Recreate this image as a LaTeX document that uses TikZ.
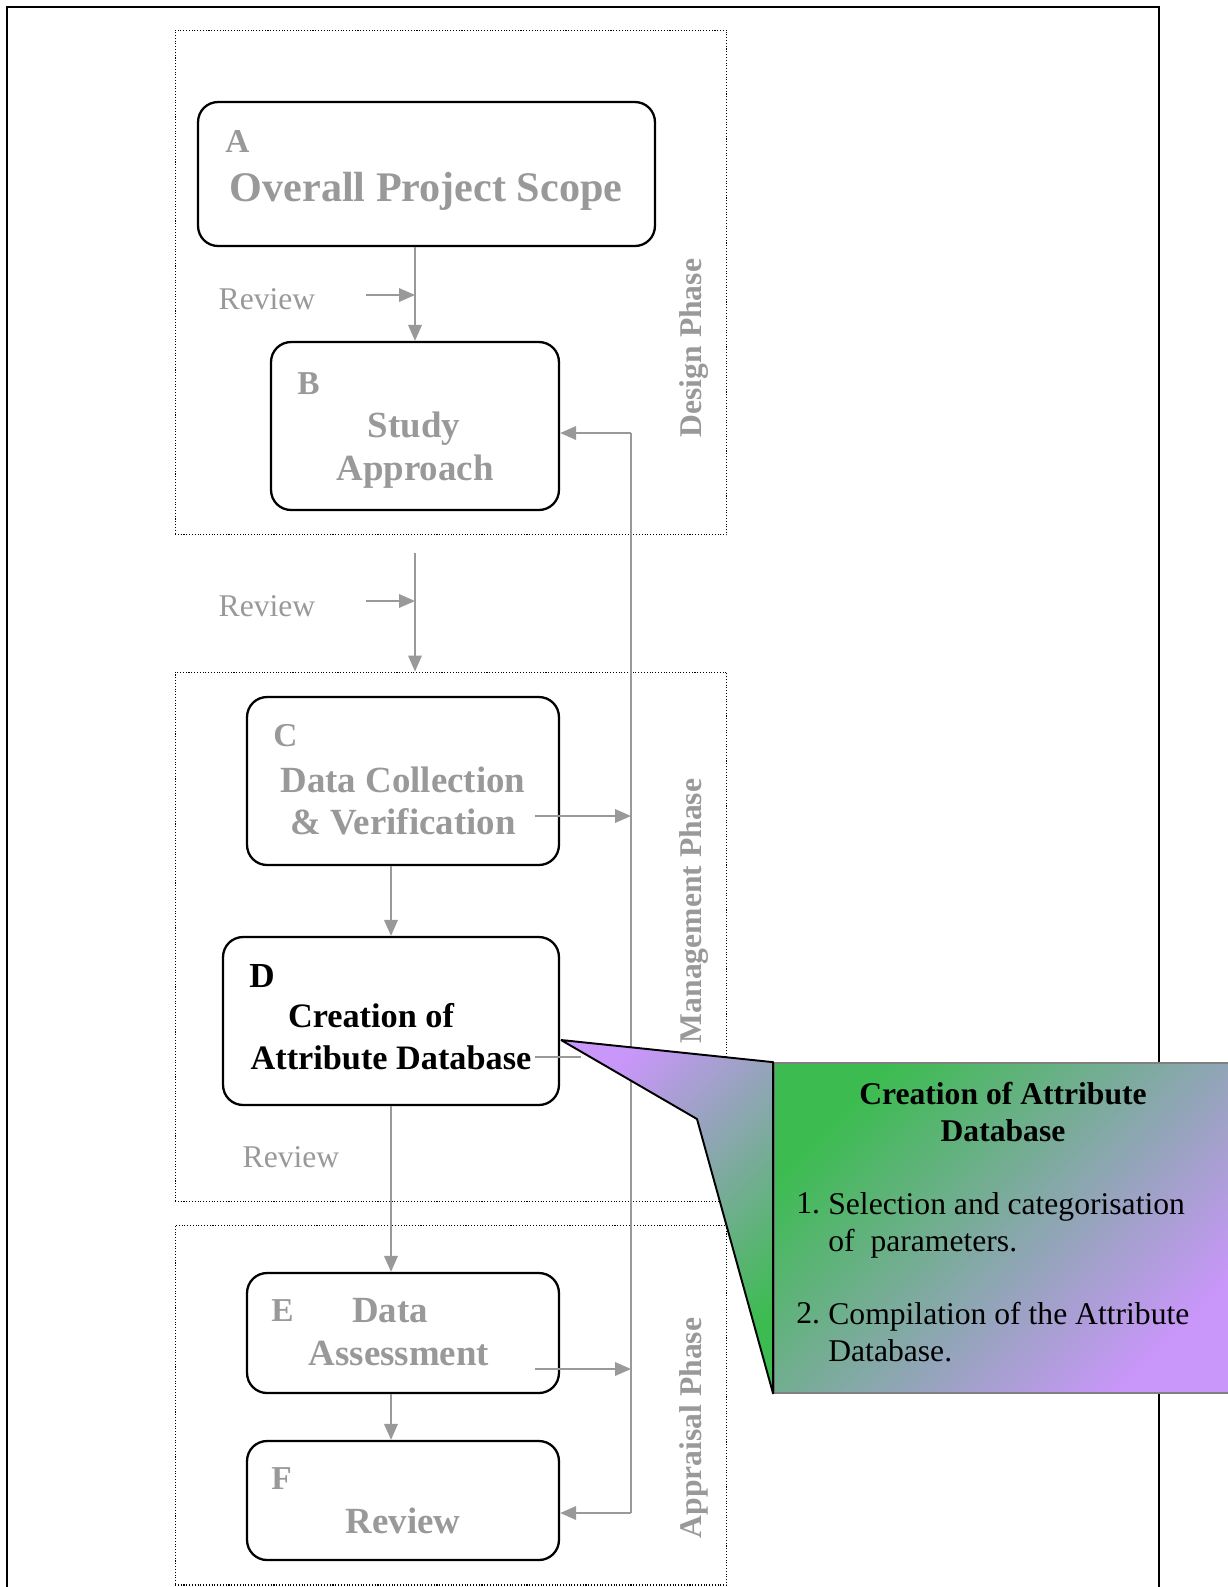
\documentclass[tikz,border=0pt]{standalone}
\usepackage{fontspec}
\setmainfont{Liberation Serif}
\usetikzlibrary{arrows.meta}

\definecolor{txtgrey}{HTML}{999999}
\definecolor{notegrey}{HTML}{808080}
\definecolor{notegreen}{HTML}{3CBC50}
\definecolor{notepurple}{HTML}{C996FA}

\begin{document}
\begin{tikzpicture}[x=0.02cm, y=-0.02cm,
    stage/.style={draw, line width=1.3pt, rounded corners=0.4cm, inner sep=0pt},
    phase/.style={draw, densely dotted, line width=0.6pt, inner sep=0pt},
    link/.style={draw=txtgrey, line width=1.1pt},
    arr/.style={link, -{Triangle[length=0.32cm,width=0.27cm]}},
    letter/.style={anchor=base west, inner sep=0pt, text=txtgrey, font=\fontsize{19}{22}\selectfont\bfseries},
    stagetext/.style={anchor=base, inner sep=0pt, text=txtgrey, font=\fontsize{21}{25}\selectfont\bfseries},
    review/.style={anchor=base, inner sep=0pt, text=txtgrey, font=\fontsize{18}{21}\selectfont},
    phasename/.style={rotate=90, inner sep=0pt, text=txtgrey, font=\fontsize{18}{21}\selectfont\bfseries},
    notetext/.style={inner sep=0pt, font=\fontsize{18}{21}\selectfont}]
    \useasboundingbox (0,0) rectangle (1228,1587);
    % Outer frame (open at the bottom)
    \draw[line width=1.1pt] (7,1600) -- (7,7) -- (1159,7) -- (1159,1600);
    % Phase boxes
    \node[phase, minimum width=11.04cm, minimum height=10.10cm] (design) at (451,282.5) {};
    \node[phase, minimum width=11.04cm, minimum height=10.60cm] (manage) at (451,937) {};
    \node[phase, minimum width=11.04cm, minimum height=7.20cm] (appraise) at (451,1405) {};
    \node[phasename] (designname) at (694,348) {Design Phase};
    \node[phasename] (managename) at (694,911) {Management Phase};
    \node[phasename] (appraisename) at (694,1428) {Appraisal Phase};
    % Stages
    \node[stage, minimum width=9.14cm, minimum height=2.88cm] (A) at (426.5,174) {};
    \node[stage, minimum width=5.76cm, minimum height=3.36cm] (B) at (415,426) {};
    \node[stage, minimum width=6.24cm, minimum height=3.36cm] (C) at (403,781) {};
    \node[stage, minimum width=6.72cm, minimum height=3.36cm] (D) at (391,1021) {};
    \node[stage, minimum width=6.24cm, minimum height=2.40cm] (E) at (403,1333) {};
    \node[stage, minimum width=6.24cm, minimum height=2.38cm] (F) at (403,1500.5) {};
    % Stage texts
    \node[letter] (Aletter) at (225,152) {A};
    \node[stagetext, font=\fontsize{24}{28}\selectfont\bfseries] (Atext) at (426,201) {Overall Project Scope};
    \node[letter] (Bletter) at (297,394) {B};
    \node[stagetext] (Btext1) at (414,437) {Study};
    \node[stagetext] (Btext2) at (415,480) {Approach};
    \node[letter] (Cletter) at (273,746) {C};
    \node[stagetext] (Ctext1) at (403,792) {Data Collection};
    \node[stagetext] (Ctext2) at (403,834) {\& Verification};
    \node[letter, text=black, font=\fontsize{20}{23}\selectfont\bfseries] (Dletter) at (249,987) {D};
    \node[stagetext, text=black, font=\fontsize{19.5}{23}\selectfont\bfseries] (Dtext1) at (371,1027) {Creation of};
    \node[stagetext, text=black, font=\fontsize{19.5}{23}\selectfont\bfseries] (Dtext2) at (391,1069) {Attribute Database};
    \node[letter] (Eletter) at (271,1321) {E};
    \node[stagetext] (Etext1) at (390,1322) {Data};
    \node[stagetext] (Etext2) at (399,1365) {Assessment};
    \node[letter] (Fletter) at (271,1489) {F};
    \node[stagetext] (Ftext) at (403,1533) {Review};
    % Reviews
    \node[review] (rv1text) at (267,309) {Review};
    \node[review] (rv2text) at (267,616) {Review};
    \node[review] (rv3text) at (291,1167) {Review};
    \coordinate (rv1) at (366,295);
    \coordinate (rv2) at (366,601);
    \coordinate (gap) at (415,553);
    % Main flow
    \draw[arr] (A.south -| B.north) -- (B.north);
    \draw[arr] (rv1) -- (rv1 -| B.north);
    \draw[arr] (gap) -- (gap |- manage.north);
    \draw[arr] (rv2) -- (rv2 -| gap);
    \draw[arr] (C.south -| D.north) -- (D.north);
    \draw[arr] (D.south) -- (D.south |- E.north);
    \draw[arr] (E.south -| D.south) -- (F.north -| D.south);
    % Feedback line
    \coordinate (busB) at (631,433);
    \coordinate (busF) at (631,1513);
    \coordinate (outC) at (535,816);
    \coordinate (outD) at (535,1057);
    \coordinate (outE) at (535,1369);
    \draw[link] (busB) -- (busF);
    \draw[arr] (busB) -- (busB -| B.east);
    \draw[arr] (busF) -- (busF -| F.east);
    \draw[arr] (outC) -- (outC -| busB);
    \draw[arr] (outE) -- (outE -| busB);
    \draw[link] (outD) -- ++(46,0);
    % Callout
    \coordinate (tip) at (561,1040);
    \coordinate (bend) at (697,1119);
    \node[draw=notegrey, line width=1pt, top color=notegreen, bottom color=notepurple, shading angle=45,
          minimum width=9.2cm, minimum height=6.6cm, inner sep=0pt] (note) at (1004,1228) {};
    \shade[top color=notepurple, bottom color=notegreen, shading angle=45]
        (tip) -- (note.north west) -- (note.south west) -- (bend) -- cycle;
    \draw[line width=1.1pt, line join=bevel] (note.north west) -- (tip) -- (bend) -- (note.south west) -- cycle;
    \node[notetext, anchor=north, align=center, font=\fontsize{18}{21}\selectfont\bfseries] (notetitle) at (1003,1082)
        {Creation of Attribute\\Database};
    \node[notetext, anchor=north west] (item1num) at (796,1192) {1.};
    \node[notetext, anchor=north west, align=left] (item1) at (828,1192) {Selection and categorisation\\of\ \ parameters.};
    \node[notetext, anchor=north west] (item2num) at (796,1302) {2.};
    \node[notetext, anchor=north west, align=left] (item2) at (828,1302) {Compilation of the Attribute\\Database.};
\end{tikzpicture}
\end{document}
